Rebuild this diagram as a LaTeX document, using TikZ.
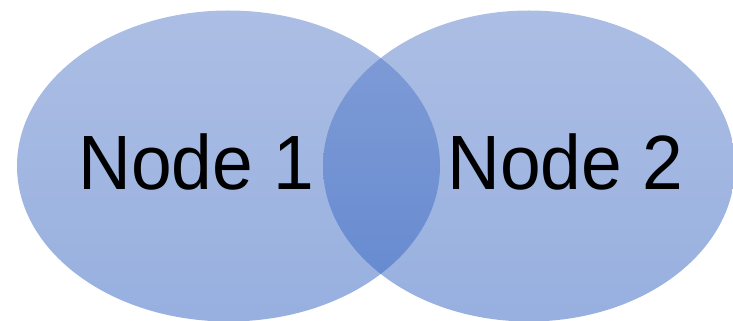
\documentclass[tikz,border=0pt]{standalone}
\usepackage{fontspec}
\setmainfont{Liberation Sans}
\usetikzlibrary{shapes.geometric}
\definecolor{venntop}{RGB}{89,125,201}
\definecolor{vennbot}{RGB}{48,97,192}
\tikzset{
  vennset/.style={ellipse, draw=none, inner sep=0pt, top color=venntop, bottom color=vennbot, fill opacity=0.5},
  vennlabel/.style={inner sep=0pt, anchor=base west, text=black, font=\fontsize{77}{90}\selectfont}
}
\newcommand{\vennsq}[1]{\scalebox{0.95}[1]{#1}}
\begin{document}
\begin{tikzpicture}[x=1pt,y=1pt]
\useasboundingbox (0,0) rectangle (733,321);
\node[vennset, minimum width=423pt, minimum height=311pt] (e1) at (228.5,155) {};
\node[vennset, minimum width=412pt, minimum height=311pt] (e2) at (529,155) {};
\node[vennlabel] (n1) at (78,131) {\vennsq{Node 1}};
\node[vennlabel] (n2) at (447,131) {\vennsq{Node 2}};
\end{tikzpicture}
\end{document}
